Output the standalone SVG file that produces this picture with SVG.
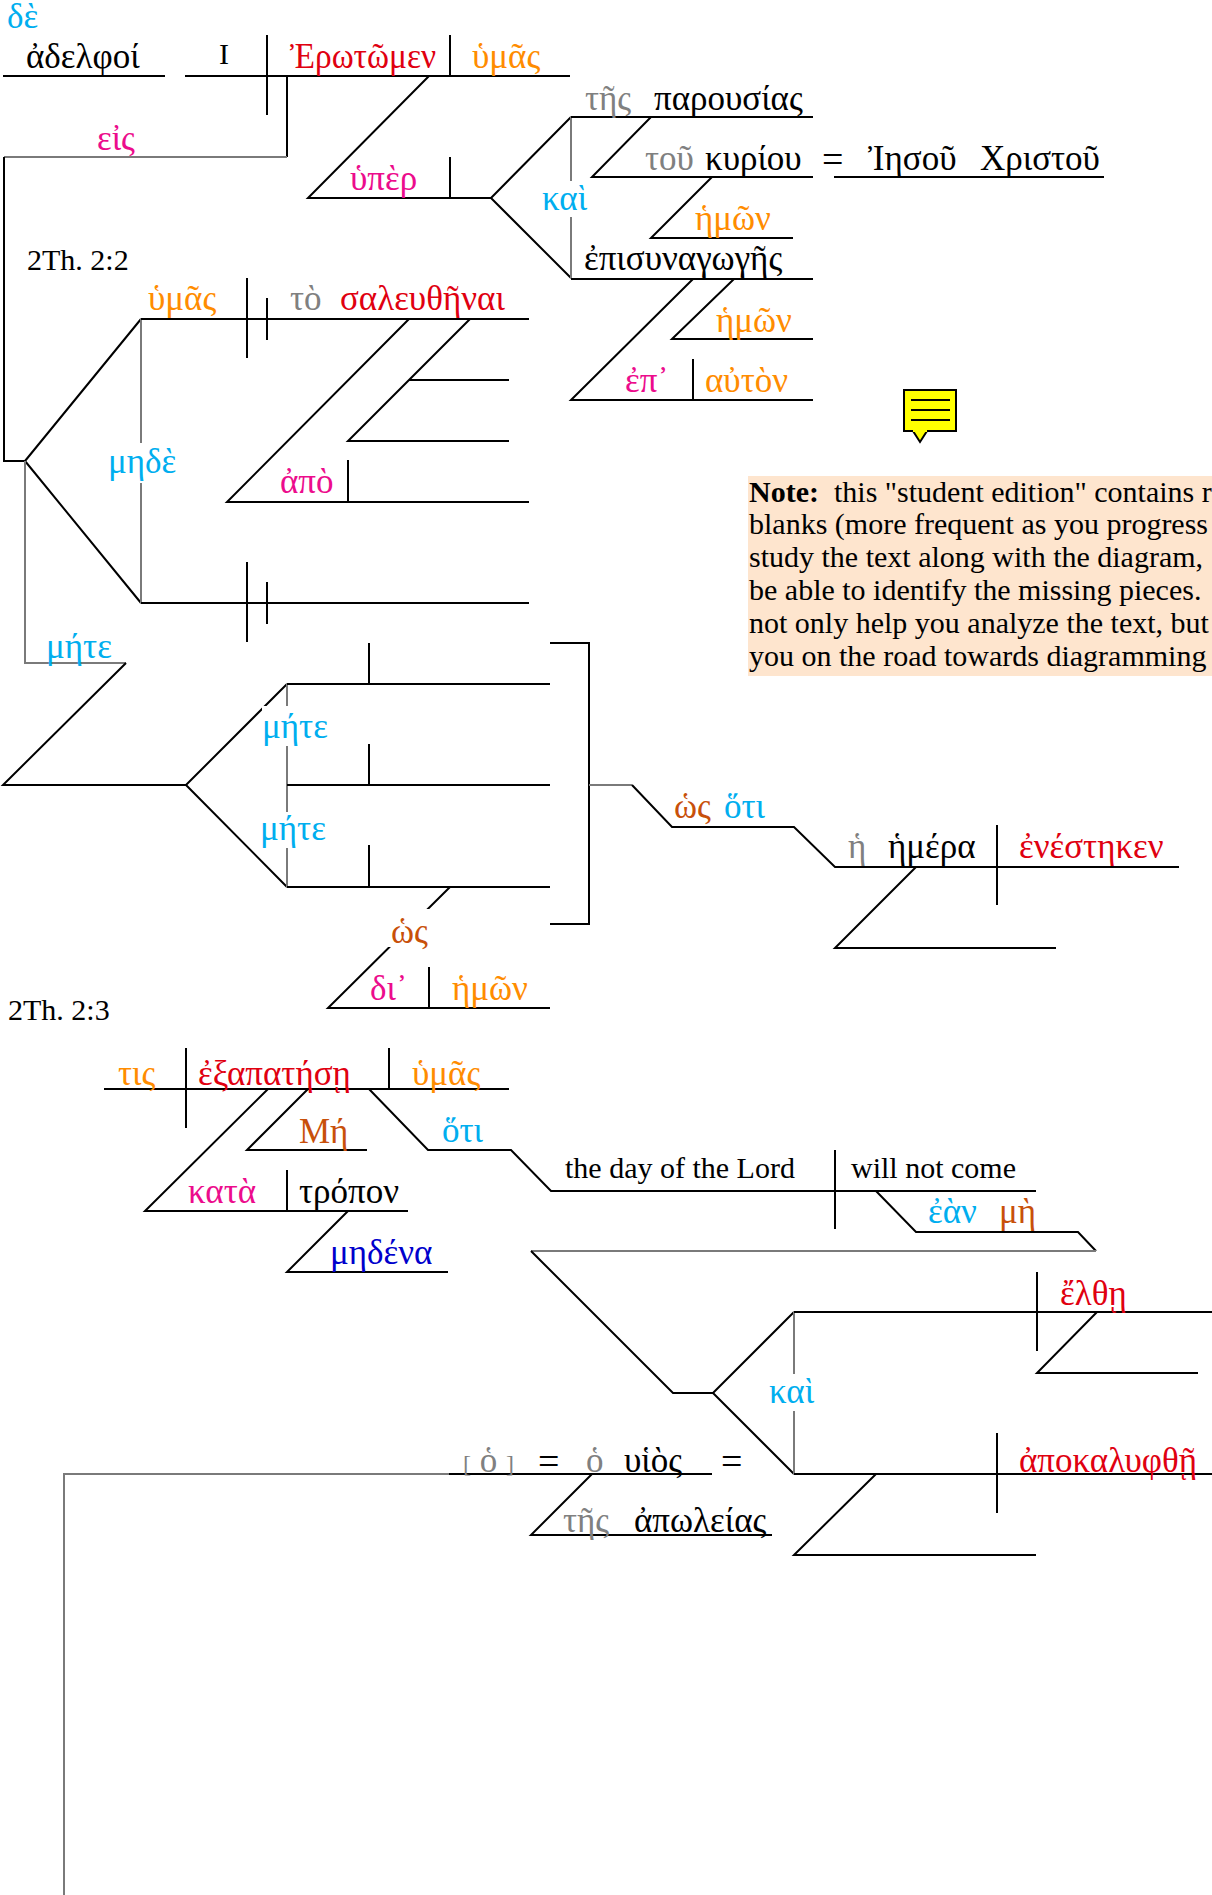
<svg xmlns="http://www.w3.org/2000/svg" width="1212" height="1895" viewBox="0 0 1212 1895">
<style>
text{font-family:"Liberation Serif","Times New Roman","DejaVu Serif",serif;font-size:35px;fill:#000}
.en{font-size:30px}
.cy{fill:#00AEEF}.rd{fill:#E00010}.or{fill:#FF8C00}.mg{fill:#EC0C8C}.br{fill:#C8500A}.gy{fill:#808080}.bl{fill:#0000CC}
.eq{font-size:38px}
.k{stroke:#000;stroke-width:2;fill:none}
.g{stroke:#7a7a7a;stroke-width:2;fill:none}
.note{font-size:30px}
</style>
<rect width="1212" height="1895" fill="#fff"/>
<g id="connectors">
<path class="k" d="M3,76H165M185,76H570M267,35V115M450,35V76M287,76V157"/>
<path class="g" d="M287,157H4"/>
<path class="k" d="M4,157V461H25"/>
<path class="k" d="M429,76L308,198H491M450,157V198M491,198L571,117M491,198L571,278"/>
<path class="g" d="M571,117V278"/>
<path class="k" d="M571,117H813M651,117L592,177H813M834,177H1104M712,177L651,238H793"/>
<path class="k" d="M571,279H813M734,279L672,339H813M693,279L571,400H813M693,359V400"/>
<path class="k" d="M25,461L141,319M25,461L141,603"/>
<path class="g" d="M141,319V603"/>
<path class="k" d="M141,319H529M247,278V358M267,298V340M409,319L227,502H529M348,460V502M470,319L348,441H509M409,380H509"/>
<path class="k" d="M141,603H529M247,562V642M267,582V624"/>
<path class="g" d="M25,461V663H126"/>
<path class="k" d="M126,663L3,785H186L287,684M186,785L287,887"/>
<path class="g" d="M287,684V887"/>
<path class="k" d="M287,684H550M287,785H550M287,887H550M369,643V684M369,744V785M369,845V887M550,643H589V924H550"/>
<path class="g" d="M589,785H632"/>
<path class="k" d="M632,785L672,827H794L835,867H1179M997,825V905M916,867L835,948H1056"/>
<path class="k" d="M450,887L328,1008H550M429,967V1008"/>
<path class="k" d="M104,1089H509M186,1048V1128M389,1048V1089M268,1089L145,1211H408M287,1170V1211M308,1089L247,1150H367M348,1211L287,1272H448"/>
<path class="k" d="M369,1089L428,1150H511L551,1191H1036M835,1150V1229M876,1191L916,1232H1078L1096,1251"/>
<path class="g" d="M1096,1251H531"/>
<path class="k" d="M531,1251L673,1393H713L794,1312M713,1393L794,1474"/>
<path class="g" d="M794,1312V1474"/>
<path class="k" d="M794,1312H1212M1037,1272V1351M1097,1312L1037,1373H1198"/>
<path class="k" d="M794,1474H1212M997,1433V1513M876,1474L794,1555H1036"/>
<path class="k" d="M449,1474H712M592,1474L531,1535H772"/>
<path class="g" d="M449,1474H64V1895"/>
</g>
<g id="label-masks" fill="#fff">
<rect x="541" y="181" width="50" height="36"/>
<rect x="107" y="443" width="67" height="40"/>
<rect x="262" y="706" width="64" height="40"/>
<rect x="259" y="812" width="66" height="36"/>
<rect x="388" y="909" width="42" height="38"/>
<rect x="768" y="1374" width="50" height="37"/>
</g>
<g id="n-de"><text class="cy" x="7" y="28" font-size="28">δὲ</text></g>
<g id="n-adelphoi"><text x="26" y="68">ἀδελφοί</text></g>
<g id="n-I"><text class="en" x="219" y="64">I</text></g>
<g id="n-erotomen"><text class="rd" x="290" y="68" font-size="33" textLength="146" lengthAdjust="spacingAndGlyphs">Ἐρωτῶμεν</text></g>
<g id="n-hymas1"><text class="or" x="472" y="68">ὑμᾶς</text></g>
<g id="n-eis"><text class="mg" x="97" y="150">εἰς</text></g>
<g id="n-hyper"><text class="mg" x="350" y="190">ὑπὲρ</text></g>
<g id="n-kai1"><text class="cy" x="542" y="210">καὶ</text></g>
<g id="n-ref22"><text class="en" x="27" y="270">2Th. 2:2</text></g>
<g id="n-parousias"><text class="gy" x="585" y="110">τῆς</text><text x="654" y="110">παρουσίας</text></g>
<g id="n-kyriou"><text class="gy" x="645" y="170">τοῦ</text><text x="705" y="170">κυρίου</text></g>
<g id="n-eq1"><text class="eq" x="822" y="172">=</text></g>
<g id="n-iesou"><text x="868" y="170">Ἰησοῦ</text><text x="980" y="170">Χριστοῦ</text></g>
<g id="n-hemon1"><text class="or" x="695" y="230">ἡμῶν</text></g>
<g id="n-episynagoges"><text x="584" y="270">ἐπισυναγωγῆς</text></g>
<g id="n-hemon2"><text class="or" x="716" y="332">ἡμῶν</text></g>
<g id="n-ep"><text class="mg" x="625" y="392">ἐπ᾽</text><text class="or" x="705" y="392">αὐτὸν</text></g>
<g id="n-note-icon">
<rect x="904" y="390" width="52" height="41" fill="#FFFF00" stroke="#000" stroke-width="2"/>
<path d="M913,431L920,442L927,431Z" fill="#FFFF00" stroke="#000" stroke-width="2"/>
<path d="M913,431H927" stroke="#FFFF00" stroke-width="2"/>
<path d="M911,400H950M911,410H950M911,420H950" stroke="#000" stroke-width="2"/>
</g>
<g id="n-note">
<rect x="748" y="476" width="464" height="200" fill="#FEE5CE"/>
<text class="note" x="749" y="502" xml:space="preserve"><tspan font-weight="bold">Note:</tspan>  this "student edition" contains r</text>
<text class="note" x="749" y="534">blanks (more frequent as you progress</text>
<text class="note" x="749" y="567">study the text along with the diagram,</text>
<text class="note" x="749" y="600">be able to identify the missing pieces.</text>
<text class="note" x="749" y="633">not only help you analyze the text, but</text>
<text class="note" x="749" y="666">you on the road towards diagramming</text>
</g>
<g id="n-saleuthenai"><text class="or" x="148" y="310">ὑμᾶς</text><text class="gy" x="290" y="310">τὸ</text><text class="rd" x="340" y="310">σαλευθῆναι</text></g>
<g id="n-apo"><text class="mg" x="280" y="493">ἀπὸ</text></g>
<g id="n-mede"><text class="cy" x="108" y="473">μηδὲ</text></g>
<g id="n-mete1"><text class="cy" x="46" y="658">μήτε</text></g>
<g id="n-mete2"><text class="cy" x="262" y="738">μήτε</text></g>
<g id="n-mete3"><text class="cy" x="260" y="840">μήτε</text></g>
<g id="n-hos1"><text class="br" x="391" y="943">ὡς</text></g>
<g id="n-di"><text class="mg" x="370" y="1000">δι᾽</text><text class="or" x="452" y="1000">ἡμῶν</text></g>
<g id="n-hos-hoti"><text class="br" x="674" y="818">ὡς</text><text class="cy" x="724" y="818">ὅτι</text></g>
<g id="n-hemera"><text class="gy" x="848" y="858">ἡ</text><text x="888" y="858">ἡμέρα</text><text class="rd" x="1019" y="858">ἐνέστηκεν</text></g>
<g id="n-ref23"><text class="en" x="8" y="1020">2Th. 2:3</text></g>
<g id="n-exapatese"><text class="or" x="118" y="1085">τις</text><text class="rd" x="198" y="1085">ἐξαπατήσῃ</text><text class="or" x="412" y="1085">ὑμᾶς</text></g>
<g id="n-me"><text class="br" x="299" y="1143">Μή</text></g>
<g id="n-hoti"><text class="cy" x="442" y="1142">ὅτι</text></g>
<g id="n-kata"><text class="mg" x="188" y="1203">κατὰ</text><text x="299" y="1203">τρόπον</text></g>
<g id="n-medena"><text class="bl" x="330" y="1264">μηδένα</text></g>
<g id="n-day"><text class="en" x="565" y="1178">the day of the Lord</text><text class="en" x="851" y="1178">will not come</text></g>
<g id="n-ean"><text class="cy" x="928" y="1223">ἐὰν</text><text class="br" x="999" y="1223">μὴ</text></g>
<g id="n-elthe"><text class="rd" x="1060" y="1305">ἔλθῃ</text></g>
<g id="n-kai2"><text class="cy" x="769" y="1403">καὶ</text></g>
<g id="n-huios"><text class="gy" x="463" y="1472"><tspan font-size="24">[</tspan> ὁ <tspan font-size="24">]</tspan></text><text class="eq" x="538" y="1474">=</text><text class="gy" x="586" y="1472">ὁ</text><text x="624" y="1472">υἱὸς</text><text class="eq" x="721" y="1474">=</text></g>
<g id="n-apoleias"><text class="gy" x="563" y="1532">τῆς</text><text x="634" y="1532">ἀπωλείας</text></g>
<g id="n-apokalyphthe"><text class="rd" x="1019" y="1472">ἀποκαλυφθῇ</text></g>
</svg>
